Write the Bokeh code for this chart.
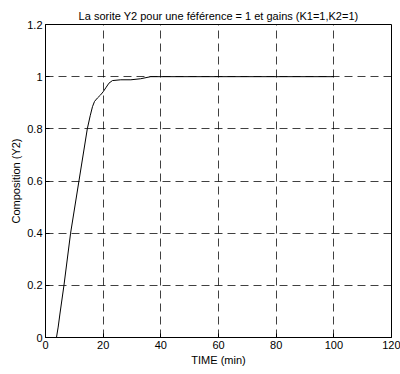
from bokeh.plotting import figure
from bokeh.embed import file_html
from bokeh.resources import INLINE
from bokeh.models import Range1d, FixedTicker

time_min = [0, 3.8, 4.4, 5.0, 6.4, 8.7, 11.6, 14.5, 15.5, 16.3, 17.0, 18.0, 19.1, 20.0, 20.9, 22.0, 23.2, 26.1, 29.6, 33.0, 36.5, 50, 70, 100]
y2 = [0, 0, 0.04, 0.09, 0.2, 0.4, 0.6, 0.8, 0.85, 0.885, 0.905, 0.918, 0.93, 0.942, 0.957, 0.975, 0.985, 0.988, 0.988, 0.992, 1.0, 1.0, 1.0, 1.0]
x_ticks = [0, 20, 40, 60, 80, 100, 120]
y_ticks = [0, 0.2, 0.4, 0.6, 0.8, 1, 1.2]

FONT = "Liberation Sans"

p = figure(width=400, height=374, output_backend="svg", toolbar_location=None,
           x_range=Range1d(0, 120), y_range=Range1d(0, 1.2),
           title="La sorite Y2 pour une féférence = 1 et gains (K1=1,K2=1)",
           min_border_left=45, min_border_right=9, min_border_top=24, min_border_bottom=37)

p.title.text_font = FONT
p.title.text_font_size = "11px"
p.title.text_font_style = "normal"
p.title.text_color = "black"
p.title.align = "center"
p.title.offset = 0
p.title.standoff = 6

p.line(time_min, y2, line_color="black", line_width=1)

p.outline_line_color = "black"
p.outline_line_width = 1
p.background_fill_color = "white"
p.border_fill_color = "white"

for ax in (p.xaxis[0], p.yaxis[0]):
    ax.axis_line_color = "black"
    ax.major_tick_in = 4
    ax.major_tick_out = 0
    ax.minor_tick_in = 0
    ax.minor_tick_out = 0
    ax.major_label_text_font = FONT
    ax.major_label_text_font_size = "11px"
    ax.major_label_text_color = "black"
    ax.axis_label_text_font = FONT
    ax.axis_label_text_font_size = "11px"
    ax.axis_label_text_font_style = "normal"
    ax.axis_label_text_color = "black"
    ax.major_label_standoff = 3
    ax.axis_label_standoff = 2

p.xaxis.ticker = FixedTicker(ticks=x_ticks)
p.yaxis.ticker = FixedTicker(ticks=y_ticks)
p.yaxis.major_label_overrides = {0: "0", 0.2: "0.2", 0.4: "0.4", 0.6: "0.6", 0.8: "0.8", 1: "1", 1.2: "1.2"}
p.xaxis.axis_label = "TIME (min)"
p.yaxis.axis_label = "Composition (Y2)"

for g in (p.xgrid[0], p.ygrid[0]):
    g.grid_line_color = "black"
    g.grid_line_alpha = 0.75
    g.grid_line_dash = "8 5"
    g.grid_line_width = 1

open("out.html", "w").write(file_html(p, INLINE))
